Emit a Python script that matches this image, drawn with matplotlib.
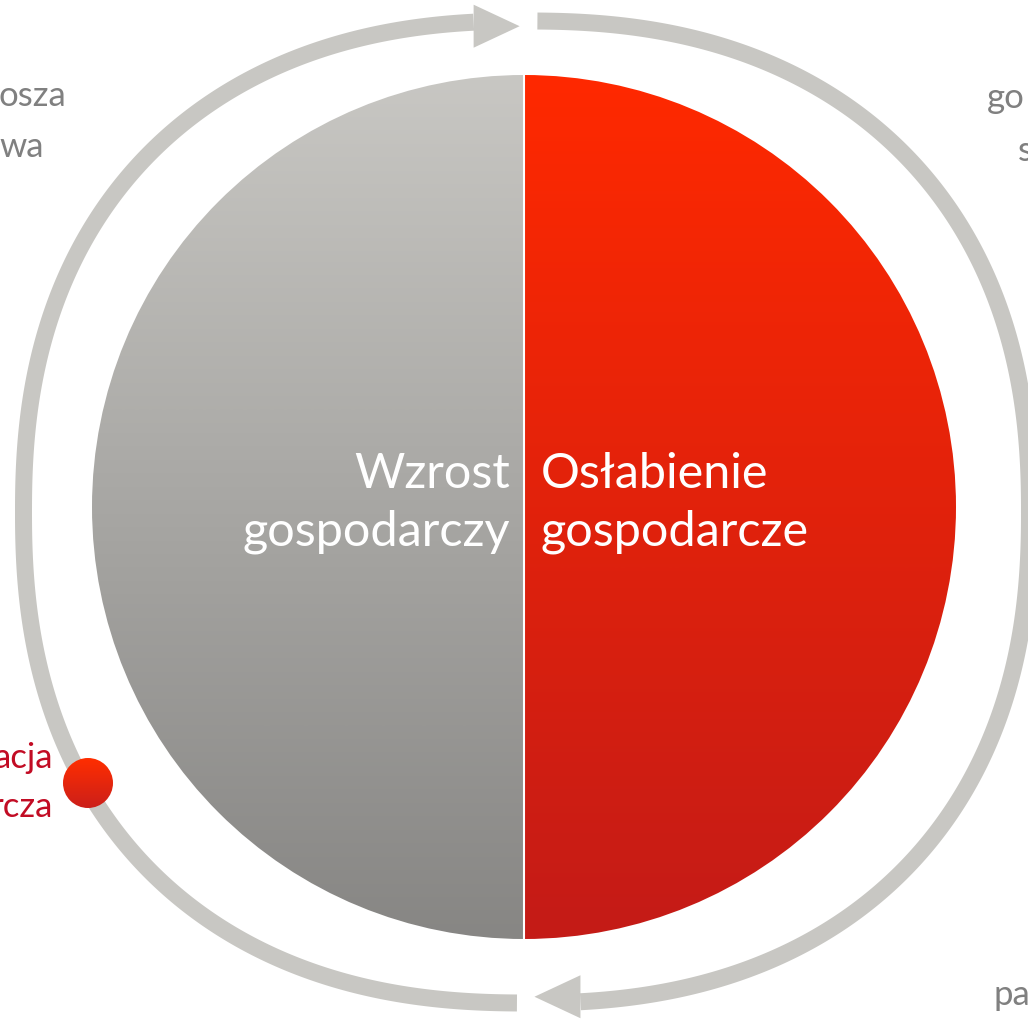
import numpy as np
import matplotlib.pyplot as plt
from matplotlib.colors import LinearSegmentedColormap
from matplotlib.patches import Circle, Polygon

W, H = 1028, 1019

# the two halves of the cycle
phase_labels = ["Wzrost\ngospodarczy", "Osłabienie\ngospodarcze"]
phase_shares = [50, 50]
phase_grads = [("#c8c7c3", "#878684"), ("#ff2900", "#c41b17")]

# labels around the ring, cut off by the picture edge
corner_tl = "osza\nwa"
corner_tr = "go\ns"
corner_br = "pa"
marker_label = "acja\nrcza"

grey_txt = "#808080"
red_txt = "#c20c24"
ring_col = "#c8c7c3"

plt.rcParams['font.family'] = ['Lato', 'DejaVu Sans']

fig = plt.figure(figsize=(W / 100, H / 100), dpi=100)
ax = fig.add_axes([0, 0, 1, 1])

cx, cy, r = 524, 507, 432
wedges, _ = ax.pie(phase_shares, center=(cx, cy), radius=r, startangle=90,
                   colors=['none', 'none'])

grad = np.linspace(0, 1, 256).reshape(-1, 1)
for w, (c0, c1) in zip(wedges, phase_grads):
    cmap = LinearSegmentedColormap.from_list('g', [c0, c1])
    im = ax.imshow(grad, cmap=cmap, extent=(cx - r, cx + r, cy + r, cy - r),
                   aspect='auto', zorder=1, interpolation='bilinear')
    im.set_clip_path(w)
ax.plot([cx, cx], [cy - r, cy + r], color='white', lw=1.5, zorder=2)

# ring (slightly squarish ellipse), drawn as a filled band
rx, ry, ra, rb, n = 526.5, 512, 503, 491, 2.3
half_w = 8.5


def ring(t0, t1):
    t = np.radians(np.linspace(t0, t1, 600))
    c, s = np.cos(t), np.sin(t)
    x = rx + ra * np.sign(c) * np.abs(c) ** (2 / n)
    y = ry + rb * np.sign(s) * np.abs(s) ** (2 / n)
    return x, y


def band(x, y):
    dx, dy = np.gradient(x), np.gradient(y)
    L = np.hypot(dx, dy)
    nx, ny = -dy / L, dx / L
    outer = np.column_stack([x + nx * half_w, y + ny * half_w])
    inner = np.column_stack([x - nx * half_w, y - ny * half_w])
    return np.vstack([outer, inner[::-1]])


xl, yl = ring(-94.3, -269.4)
ax.add_patch(Polygon(band(xl, yl), closed=True, color=ring_col, lw=0, zorder=3))
xr, yr = ring(-89.3, 85.6)
ax.add_patch(Polygon(band(xr, yr), closed=True, color=ring_col, lw=0, zorder=3))

# arrow heads
x0, y0 = xl[0], yl[0] + 4
ax.add_patch(Polygon([(x0, y0 - 21.5), (x0 + 46, y0), (x0, y0 + 21.5)],
                     closed=True, color=ring_col, lw=0, zorder=3))
x1, y1 = xr[-1], yr[-1] - 5
ax.add_patch(Polygon([(x1, y1 - 21.5), (x1 - 46, y1), (x1, y1 + 21.5)],
                     closed=True, color=ring_col, lw=0, zorder=3))

# red marker on the ring
dot = Circle((88, 783), 25, facecolor='none', edgecolor='none')
ax.add_patch(dot)
cmap = LinearSegmentedColormap.from_list('d', ["#ff2e00", "#cc1f1a"])
im = ax.imshow(grad, cmap=cmap, extent=(63, 113, 808, 758), aspect='auto',
               zorder=4, interpolation='bilinear')
im.set_clip_path(dot)

# centre labels
for i, line in enumerate(phase_labels[0].split('\n')):
    ax.text(510, 488 + 58 * i, line, ha='right', va='baseline',
            color='white', fontsize=35, zorder=5)
for i, line in enumerate(phase_labels[1].split('\n')):
    ax.text(541, 488 + 58 * i, line, ha='left', va='baseline',
            color='white', fontsize=35, zorder=5)

fs = 25
for i, line in enumerate(corner_tl.split('\n')):
    ax.text(-1, 106 + 51 * i, line, ha='left', va='baseline', color=grey_txt, fontsize=fs)
tr = corner_tr.split('\n')
ax.text(987, 108, tr[0], ha='left', va='baseline', color=grey_txt, fontsize=fs)
ax.text(1018, 161, tr[1], ha='left', va='baseline', color=grey_txt, fontsize=fs)
ax.text(993, 1005, corner_br, ha='left', va='baseline', color=grey_txt, fontsize=fs)
for i, line in enumerate(marker_label.split('\n')):
    ax.text(53, 768 + 49 * i, line, ha='right', va='baseline', color=red_txt, fontsize=fs)

ax.set_xlim(0, W)
ax.set_ylim(H, 0)
ax.set_aspect('auto')
ax.axis('off')

fig.savefig('out.png', dpi=100, facecolor='white')
